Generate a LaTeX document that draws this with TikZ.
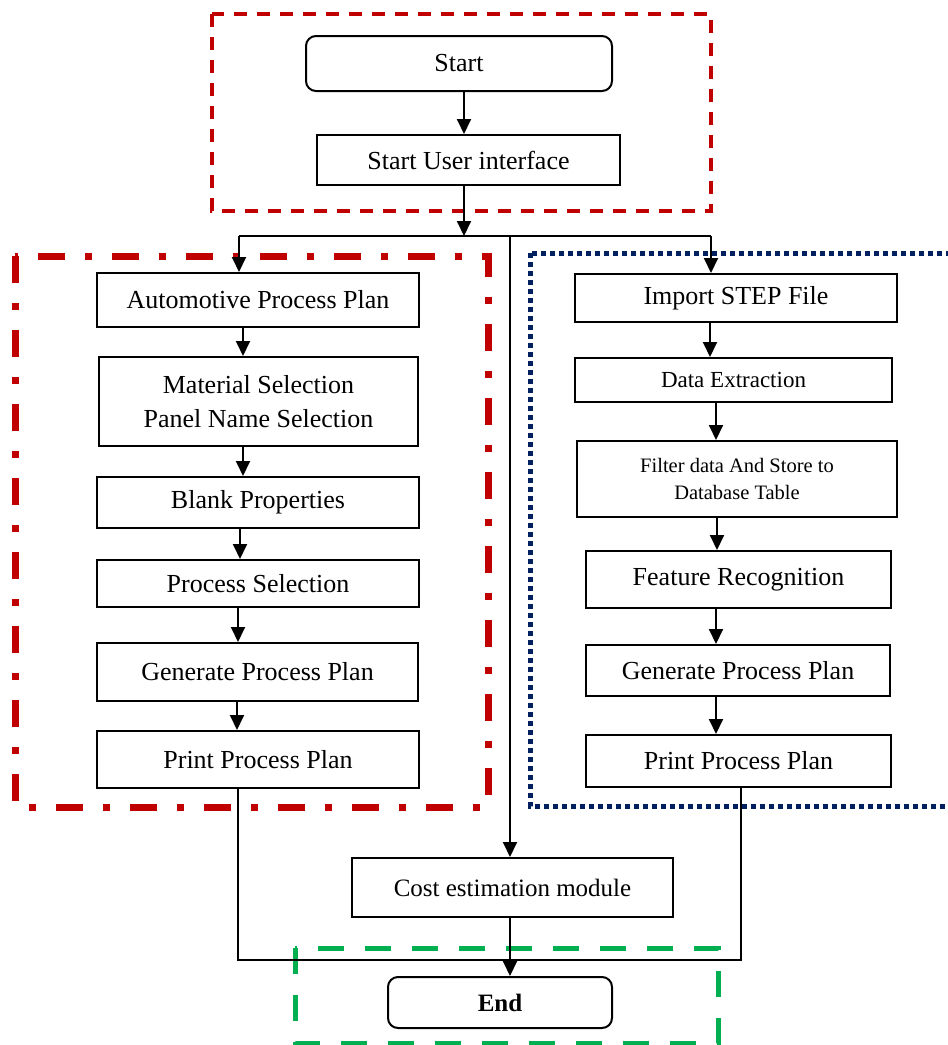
\documentclass[tikz,border=0pt]{standalone}
\usepackage{fontspec}
\setmainfont{Liberation Serif}
\usetikzlibrary{arrows.meta}
\definecolor{dred}{HTML}{C00000}
\definecolor{navy}{HTML}{002060}
\definecolor{grn}{HTML}{00B050}
\begin{document}
\begin{tikzpicture}[x=1pt,y=-1pt,
  box/.style={draw, line width=2pt, fill=white, inner sep=0pt, align=center, font=\fontsize{26}{34}\selectfont},
  rbox/.style={box, rounded corners=10pt},
  arr/.style={line width=1.9pt, -{Triangle[length=15pt,width=14pt]}},
  link/.style={line width=1.9pt},
  frtop/.style={draw=dred, line width=3.4pt, dash pattern=on 13pt off 10pt},
  frleft/.style={draw=dred, line width=7pt, dash pattern=on 27pt off 20pt on 7pt off 20pt},
  frright/.style={draw=navy, line width=5pt, dash pattern=on 5pt off 4pt},
  frend/.style={draw=grn, line width=5pt, dash pattern=on 26pt off 21pt}]
\clip (0,0) rectangle (948,1045);
\fill[white] (0,0) rectangle (948,1045);
% frames
\draw[frtop] (212,14) rectangle (711,211);
\draw[frleft] (15,256) rectangle (488,807);
\draw[frright] (530,253) rectangle (975,806);
\draw[frend] (295,948) rectangle (718,1043);
% nodes
\node[rbox, minimum width=306pt, minimum height=55pt] (start) at (459,63.5) {Start};
\node[box, minimum width=303pt, minimum height=50pt] (sui) at (468.5,160) {Start User interface};
\node[box, minimum width=322pt, minimum height=54pt] (ap) at (258,300) {Automotive Process Plan};
\node[box, minimum width=319pt, minimum height=89pt] (ms) at (258.5,401.5) {Material Selection\\Panel Name Selection};
\node[box, minimum width=322pt, minimum height=51pt] (bp) at (258,502.5) {Blank Properties};
\node[box, minimum width=322pt, minimum height=47pt] (ps) at (258,583.5) {Process Selection};
\node[box, minimum width=321pt, minimum height=58pt] (gpl) at (257.5,672) {Generate Process Plan};
\node[box, minimum width=322pt, minimum height=57pt] (ppl) at (258,759.5) {Print Process Plan};
\node[box, minimum width=322pt, minimum height=48pt] (isf) at (736,298) {Import STEP File};
\node[box, minimum width=317pt, minimum height=44pt, font=\fontsize{23}{28}\selectfont] (de) at (733.5,380) {Data Extraction};
\node[box, minimum width=320pt, minimum height=76pt, font=\fontsize{20.5}{27}\selectfont] (fd) at (737,479) {Filter data And Store to\\Database Table};
\node[box, minimum width=305pt, minimum height=57pt] (fr) at (738.5,579.5) {Feature Recognition};
\node[box, minimum width=304pt, minimum height=51pt] (gpr) at (738,670.5) {Generate Process Plan};
\node[box, minimum width=305pt, minimum height=52pt] (ppr) at (738.5,761) {Print Process Plan};
\node[box, minimum width=321pt, minimum height=59pt, font=\fontsize{25}{30}\selectfont] (cost) at (512.5,887.5) {Cost estimation module};
\node[rbox, minimum width=224pt, minimum height=51pt, font=\fontsize{25}{30}\selectfont\bfseries] (end) at (500,1002.5) {End};
% helper coordinates
\coordinate (c1) at (464,0);
\coordinate (br) at (464,236);
\coordinate (bl) at (239,236);
\coordinate (brr) at (711,236);
\coordinate (bm) at (510,236);
\coordinate (jl) at (238,960);
\coordinate (jr) at (741,960);
\coordinate (l1) at (243,0);
\coordinate (l2) at (243,0);
\coordinate (l3) at (240,0);
\coordinate (l4) at (238,0);
\coordinate (l5) at (237,0);
\coordinate (r1) at (710,0);
\coordinate (r2) at (716,0);
\coordinate (r3) at (717,0);
\coordinate (r4) at (716,0);
\coordinate (r5) at (716,0);
% connectors
\draw[arr] (start.south -| c1) -- (sui.north -| c1);
\draw[arr] (sui.south -| br) -- (br);
\draw[link] (bl) -- (brr);
\draw[arr] (bl) -- (ap.north -| bl);
\draw[arr] (brr) -- (isf.north -| brr);
\draw[arr] (bm) -- (cost.north -| bm);
\draw[arr] (cost.south -| bm) -- (end.north -| bm);
\draw[link] (ppl.south -| jl) -- (jl) -- (jr) -- (ppr.south -| jr);
\draw[arr] (ap.south -| l1) -- (ms.north -| l1);
\draw[arr] (ms.south -| l2) -- (bp.north -| l2);
\draw[arr] (bp.south -| l3) -- (ps.north -| l3);
\draw[arr] (ps.south -| l4) -- (gpl.north -| l4);
\draw[arr] (gpl.south -| l5) -- (ppl.north -| l5);
\draw[arr] (isf.south -| r1) -- (de.north -| r1);
\draw[arr] (de.south -| r2) -- (fd.north -| r2);
\draw[arr] (fd.south -| r3) -- (fr.north -| r3);
\draw[arr] (fr.south -| r4) -- (gpr.north -| r4);
\draw[arr] (gpr.south -| r5) -- (ppr.north -| r5);
\end{tikzpicture}
\end{document}
